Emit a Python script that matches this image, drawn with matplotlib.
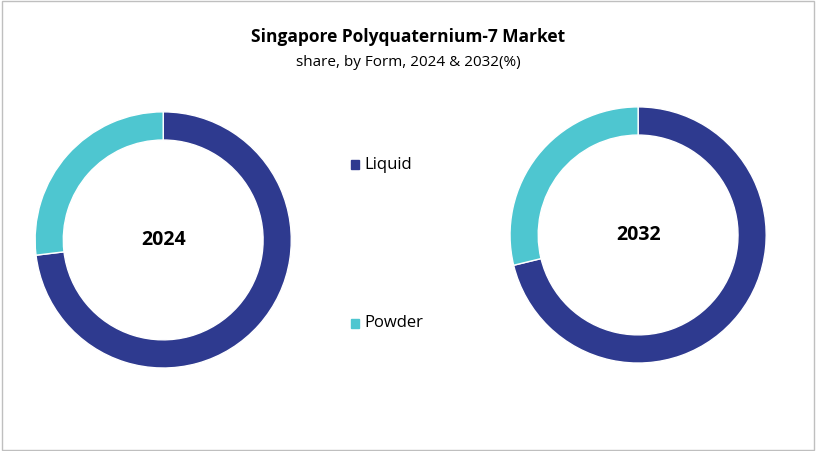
import matplotlib
matplotlib.use('Agg')
import matplotlib.pyplot as plt

plt.rcParams['font.family'] = ['Open Sans', 'DejaVu Sans']

forms = ['Liquid', 'Powder']
share_2024 = [73.1, 26.9]
share_2032 = [71.2, 28.8]
colors = ['#2E3A8F', '#4EC6D0']

fig = plt.figure(figsize=(8.16, 4.51), dpi=100)
fig.patches.append(plt.Rectangle((0.002, 0.002), 0.996, 0.996, transform=fig.transFigure,
                                 fill=False, edgecolor='#BFBFBF', linewidth=1))

fig.text(0.5, 0.917, 'Singapore Polyquaternium-7 Market', ha='center', va='center',
         fontsize=12.5, fontweight='bold')
fig.text(0.5, 0.862, 'share, by Form, 2024 & 2032(%)', ha='center', va='center', fontsize=11)

# (left, bottom, width, height) in figure fraction
boxes = [(0.043, 0.184, 0.314, 0.568), (0.625, 0.195, 0.314, 0.568)]
for box, vals, year in zip(boxes, [share_2024, share_2032], ['2024', '2032']):
    ax = fig.add_axes(box)
    ax.pie(vals, colors=colors, startangle=90, counterclock=False,
           wedgeprops=dict(width=0.22, edgecolor='white', linewidth=1))
    ax.set_xlim(-1, 1)
    ax.set_ylim(-1, 1)
    ax.set_aspect('equal')
    ax.axis('off')
    ax.text(0, 0, year, ha='center', va='center', fontsize=14, fontweight='bold')

for y, name, c in [(0.635, forms[0], colors[0]), (0.283, forms[1], colors[1])]:
    fig.patches.append(plt.Rectangle((0.430, y - 0.01), 0.010, 0.02,
                                     transform=fig.transFigure, color=c))
    fig.text(0.447, y, name, va='center', fontsize=12)

fig.savefig('out.png', dpi=100)
